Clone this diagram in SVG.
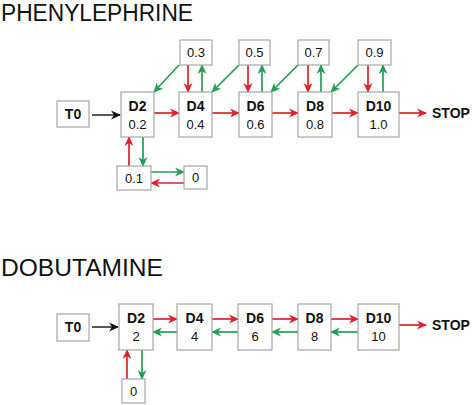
<svg xmlns="http://www.w3.org/2000/svg" width="474" height="405" viewBox="0 0 474 405">
<defs>
<style>
.box{fill:#fff;stroke:#a6a6a6;stroke-width:1.2}
.t{font-family:"Liberation Sans",Arial,sans-serif;font-size:13px;fill:#111;text-anchor:middle}
.b{font-weight:bold;font-size:14px}
.title{font-family:"Liberation Sans",Arial,sans-serif;font-size:23px;fill:#111}
.stop{font-family:"Liberation Sans",Arial,sans-serif;font-size:14px;font-weight:bold;fill:#111}
.r{stroke:#e0202a;stroke-width:1.7;fill:none;marker-end:url(#ar)}
.g{stroke:#22a055;stroke-width:1.7;fill:none;marker-end:url(#ag)}
.k{stroke:#111;stroke-width:1.4;fill:none;marker-end:url(#ak)}
</style>
<marker id="ar" viewBox="0 0 10 10" refX="9" refY="5" markerWidth="10" markerHeight="10" markerUnits="userSpaceOnUse" orient="auto"><path d="M0,0.5 L10,5 L0,9.5 L3,5 Z" fill="#e0202a"/></marker>
<marker id="ag" viewBox="0 0 10 10" refX="9" refY="5" markerWidth="10" markerHeight="10" markerUnits="userSpaceOnUse" orient="auto"><path d="M0,0.5 L10,5 L0,9.5 L3,5 Z" fill="#22a055"/></marker>
<marker id="ak" viewBox="0 0 10 10" refX="9" refY="5" markerWidth="10" markerHeight="10" markerUnits="userSpaceOnUse" orient="auto"><path d="M0,0.5 L10,5 L0,9.5 L3,5 Z" fill="#111"/></marker>
</defs>
<rect width="474" height="405" fill="#fff"/>
<text class="title" x="1" y="21" textLength="192" lengthAdjust="spacingAndGlyphs">PHENYLEPHRINE</text>
<text class="title" x="1" y="276" textLength="162" lengthAdjust="spacingAndGlyphs">DOBUTAMINE</text>

<g id="connectors">
<line class="k" x1="92" y1="115" x2="120" y2="115"/>
<line class="r" x1="154" y1="113" x2="179" y2="113"/>
<line class="r" x1="212" y1="113" x2="239" y2="113"/>
<line class="r" x1="272" y1="113" x2="298" y2="113"/>
<line class="r" x1="332" y1="113" x2="358" y2="113"/>
<line class="r" x1="399" y1="113" x2="426" y2="113"/>
<line class="r" x1="188" y1="65" x2="188" y2="92"/>
<line class="g" x1="202" y1="92" x2="202" y2="65"/>
<line class="r" x1="248" y1="65" x2="248" y2="92"/>
<line class="g" x1="262" y1="92" x2="262" y2="65"/>
<line class="r" x1="308" y1="65" x2="308" y2="92"/>
<line class="g" x1="321" y1="92" x2="321" y2="65"/>
<line class="r" x1="368" y1="65" x2="368" y2="92"/>
<line class="g" x1="383" y1="92" x2="383" y2="65"/>
<line class="g" x1="179" y1="65" x2="154" y2="92"/>
<line class="g" x1="239" y1="65" x2="212" y2="92"/>
<line class="g" x1="298" y1="65" x2="271" y2="92"/>
<line class="g" x1="358" y1="65" x2="331" y2="92"/>
<line class="r" x1="129" y1="166" x2="129" y2="137"/>
<line class="g" x1="143" y1="137" x2="143" y2="166"/>
<line class="g" x1="151" y1="172" x2="184" y2="172"/>
<line class="r" x1="184" y1="183" x2="151" y2="183"/>
<line class="k" x1="92" y1="327" x2="118" y2="327"/>
<line class="r" x1="153" y1="319" x2="177" y2="319"/>
<line class="g" x1="177" y1="332" x2="153" y2="332"/>
<line class="r" x1="212" y1="319" x2="238" y2="319"/>
<line class="g" x1="238" y1="332" x2="212" y2="332"/>
<line class="r" x1="272" y1="319" x2="298" y2="319"/>
<line class="g" x1="298" y1="332" x2="272" y2="332"/>
<line class="r" x1="331" y1="319" x2="358" y2="319"/>
<line class="g" x1="358" y1="332" x2="331" y2="332"/>
<line class="r" x1="399" y1="325" x2="426" y2="325"/>
<line class="r" x1="127" y1="379" x2="127" y2="350"/>
<line class="g" x1="142" y1="350" x2="142" y2="379"/>
</g>

<g id="p-t0"><rect class="box" x="57" y="101" width="32" height="26"/><text class="t b" x="73" y="119">T0</text></g>
<g id="p-d2"><rect class="box" x="121" y="92" width="33" height="45"/><text class="t b" x="137.5" y="111">D2</text><text class="t" x="137.5" y="129">0.2</text></g>
<g id="p-d4"><rect class="box" x="179" y="92" width="33" height="45"/><text class="t b" x="195.5" y="111">D4</text><text class="t" x="195.5" y="129">0.4</text></g>
<g id="p-d6"><rect class="box" x="239" y="92" width="33" height="45"/><text class="t b" x="255.5" y="111">D6</text><text class="t" x="255.5" y="129">0.6</text></g>
<g id="p-d8"><rect class="box" x="298" y="92" width="34" height="45"/><text class="t b" x="315" y="111">D8</text><text class="t" x="315" y="129">0.8</text></g>
<g id="p-d10"><rect class="box" x="358" y="92" width="41" height="45"/><text class="t b" x="378.5" y="111">D10</text><text class="t" x="378.5" y="129">1.0</text></g>
<g id="p-stop"><text class="stop" x="432" y="118">STOP</text></g>
<g id="p-03"><rect class="box" x="180" y="40" width="32" height="25"/><text class="t" x="196" y="57">0.3</text></g>
<g id="p-05"><rect class="box" x="239" y="40" width="31" height="25"/><text class="t" x="254.5" y="57">0.5</text></g>
<g id="p-07"><rect class="box" x="298" y="40" width="31" height="25"/><text class="t" x="313.5" y="57">0.7</text></g>
<g id="p-09"><rect class="box" x="358" y="40" width="33" height="25"/><text class="t" x="374.5" y="57">0.9</text></g>
<g id="p-01"><rect class="box" x="117" y="166" width="34" height="24"/><text class="t" x="134" y="183">0.1</text></g>
<g id="p-0"><rect class="box" x="184" y="166" width="23" height="23"/><text class="t" x="195.5" y="182">0</text></g>

<g id="d-t0"><rect class="box" x="57" y="314" width="32" height="27"/><text class="t b" x="73" y="332">T0</text></g>
<g id="d-d2"><rect class="box" x="119" y="304" width="34" height="46"/><text class="t b" x="136" y="323">D2</text><text class="t" x="136" y="341">2</text></g>
<g id="d-d4"><rect class="box" x="177" y="304" width="35" height="46"/><text class="t b" x="194.5" y="323">D4</text><text class="t" x="194.5" y="341">4</text></g>
<g id="d-d6"><rect class="box" x="238" y="304" width="34" height="46"/><text class="t b" x="255" y="323">D6</text><text class="t" x="255" y="341">6</text></g>
<g id="d-d8"><rect class="box" x="298" y="304" width="33" height="46"/><text class="t b" x="314.5" y="323">D8</text><text class="t" x="314.5" y="341">8</text></g>
<g id="d-d10"><rect class="box" x="358" y="304" width="41" height="46"/><text class="t b" x="378.5" y="323">D10</text><text class="t" x="378.5" y="341">10</text></g>
<g id="d-stop"><text class="stop" x="432" y="330">STOP</text></g>
<g id="d-0"><rect class="box" x="122" y="379" width="23" height="24"/><text class="t" x="133.5" y="396">0</text></g>
</svg>
